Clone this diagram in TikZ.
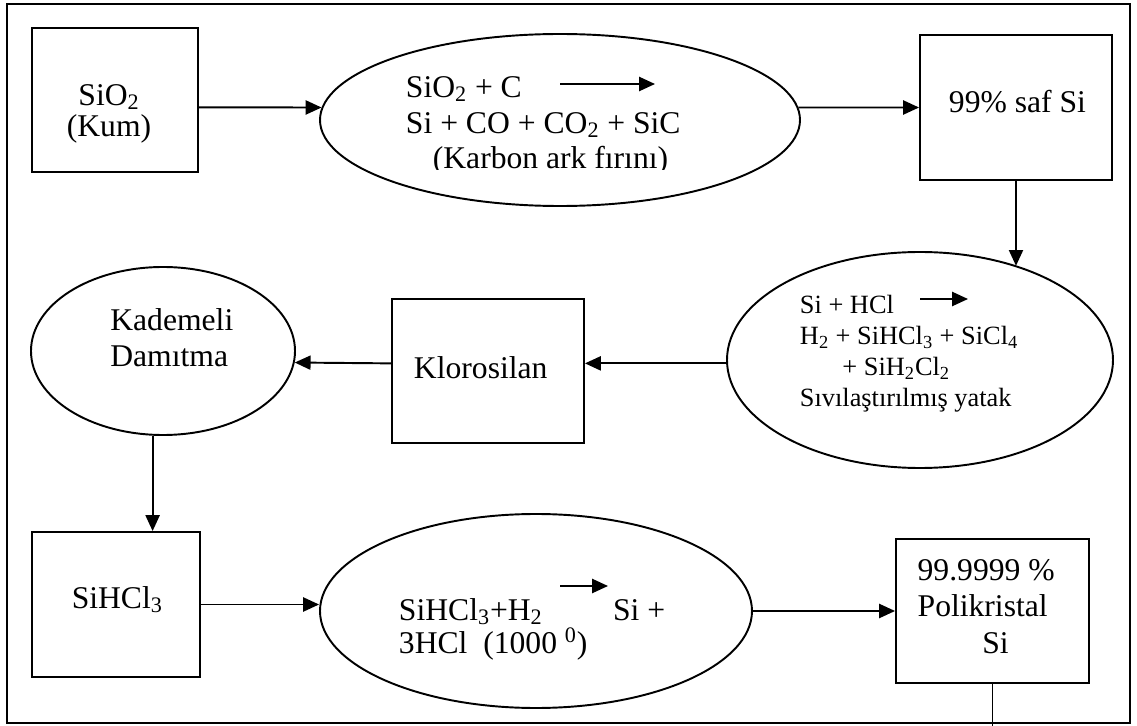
\documentclass[tikz,border=0pt]{standalone}
\usepackage{fontspec}
\setmainfont{Liberation Serif}
\usetikzlibrary{shapes.geometric, arrows.meta}

\begin{document}
\begin{tikzpicture}[x=0.02cm, y=-0.02cm, line width=1.1pt,
  kutu/.style 2 args={draw, rectangle, inner sep=0pt, minimum width=#1*0.02cm, minimum height=#2*0.02cm},
  elips/.style 2 args={draw, ellipse, inner sep=0pt, minimum width=#1*0.02cm, minimum height=#2*0.02cm},
  yazi/.style={inner sep=0pt, anchor=base west, align=left, font=\fontsize{18}{20.7}\selectfont},
  ok/.style={-{Triangle[length=9pt, width=8pt]}}]
\useasboundingbox (0,0) rectangle (1137,726);
\draw (7,4) rectangle (1130,723);

\node[kutu={166}{144}] (kum) at (115,100) {};
\node[elips={480}{172}] (karbon) at (560,120) {};
\node[kutu={192}{145}] (saf) at (1016,107.5) {};
\node[elips={386}{216}] (hcl) at (920,360) {};
\node[kutu={192}{144}] (klor) at (488,371) {};
\node[elips={264}{168}] (damit) at (163,351) {};
\node[kutu={168}{145}] (sihcl) at (116,604.5) {};
\node[elips={432}{194}] (hidro) at (536,611) {};
\node[kutu={193}{144}] (poli) at (992.5,611) {};
\coordinate (cikis) at (992.5,730);

\node[yazi, anchor=base, align=center, font=\fontsize{18}{18.1}\selectfont] (kumt) at (109,137)
  {SiO\textsubscript{2}\\(Kum)};
\begin{scope}
\clip (0,0) rectangle (1137,170);
\node[yazi, font=\fontsize{18}{20.4}\selectfont] (karbont) at (405,169)
  {SiO\textsubscript{2} + C\\Si + CO + CO\textsubscript{2} + SiC\\\hspace*{15.3pt}(Karbon ark fırını)};
\end{scope}
\node[yazi] (saft) at (948,112.7) {99\% saf Si};
\node[yazi, font=\fontsize{15}{17.7}\selectfont] (hclt) at (799,407)
  {Si + HCl\\H\textsubscript{2} + SiHCl\textsubscript{3} + SiCl\textsubscript{4}\\\hspace*{24.2pt}+ SiH\textsubscript{2}Cl\textsubscript{2}\\Sıvılaştırılmış yatak};
\node[yazi] (klort) at (413,378.3) {Klorosilan};
\node[yazi, font=\fontsize{18}{20.8}\selectfont] (damitt) at (109.4,366.7) {Kademeli\\Damıtma};
\node[yazi] (sihclt) at (70.8,608.3) {SiHCl\textsubscript{3}};
\node[yazi, font=\fontsize{18}{18.7}\selectfont] (hidrot) at (398,653.3)
  {\makebox[121.9pt][l]{SiHCl\textsubscript{3}+H\textsubscript{2}}Si +\\3HCl\ \ (1000 \textsuperscript{0})};
\node[yazi, font=\fontsize{18}{20.8}\selectfont] (polit) at (916.7,653.3)
  {99.9999 \%\\Polikristal\\\hspace*{36.8pt}Si};

\coordinate (r1a) at (560,84);
\coordinate (r1b) at (655,84);
\coordinate (r2a) at (920,299);
\coordinate (r2b) at (968,299);
\coordinate (r3a) at (560,586);
\coordinate (r3b) at (608,586);
\draw[ok] (r1a) -- (r1b);
\draw[ok] (r2a) -- (r2b);
\draw[ok] (r3a) -- (r3b);

\draw[ok] (kum.-5) -- (karbon.177);
\draw[ok] (karbon.3) -- (saf.west);
\draw[ok] (saf.south) -- (saf.south |- hcl.44);
\draw[ok] (hcl.181) -- (hcl.181 -| klor.east);
\draw[ok] (klor.west |- hcl.181) -- (damit.-5);
\draw[ok] (damit.263) -- (damit.263 |- sihcl.north);
\draw[ok] (sihcl.east) -- (sihcl.east -| hidro.west);
\draw[ok] (hidro.east) -- (poli.west);
\draw (poli.south) -- (cikis);
\end{tikzpicture}
\end{document}
